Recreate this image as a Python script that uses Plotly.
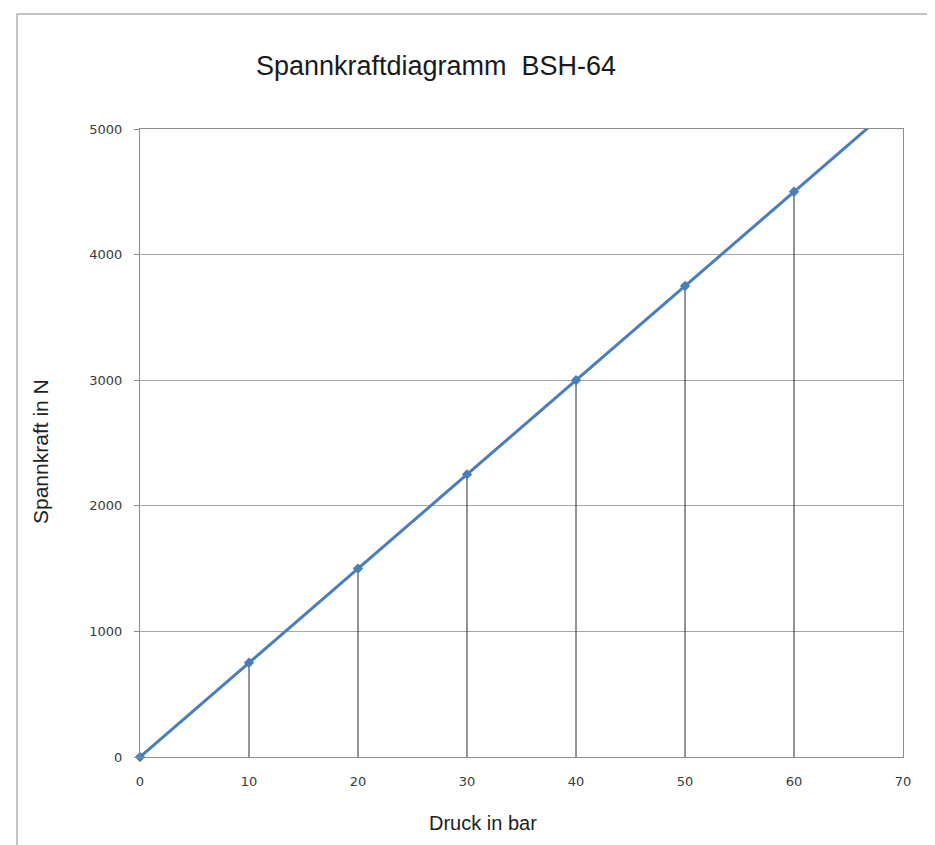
import numpy as np
import plotly.graph_objects as go

druck = [0, 10, 20, 30, 40, 50, 60]
spannkraft = [0, 750, 1500, 2250, 3000, 3750, 4500]
x_ticks = [0, 10, 20, 30, 40, 50, 60, 70]
y_ticks = [0, 1000, 2000, 3000, 4000, 5000]

line_color = "#4a7ebb"

# linear trendline through the measured points
slope, intercept = np.polyfit(druck, spannkraft, 1)
trend_x = [0, 70]
trend_y = [intercept + slope * v for v in trend_x]

fig = go.Figure()

# drop lines
for xv, yv in zip(druck[1:], spannkraft[1:]):
    fig.add_trace(go.Scatter(x=[xv, xv], y=[0, yv], mode="lines",
                             line=dict(color="#2b2b2b", width=1),
                             hoverinfo="skip", showlegend=False))

fig.add_trace(go.Scatter(x=trend_x, y=trend_y, mode="lines",
                         line=dict(color=line_color, width=3),
                         showlegend=False))
fig.add_trace(go.Scatter(x=druck, y=spannkraft, mode="markers",
                         marker=dict(symbol="diamond", size=8, color=line_color),
                         showlegend=False, cliponaxis=False))

tick_font = dict(family="DejaVu Sans", size=13, color="#3a3a3a")

L, T, R, B = 132, 121, 895, 749
PW, PH = R - L, B - T

def px(v):
    return (v - L) / PW

def py(v):
    return (B - v) / PH

fig.update_layout(
    width=935, height=845,
    margin=dict(l=L, r=935 - R, t=T, b=845 - B),
    paper_bgcolor="white", plot_bgcolor="white",
    title=dict(text="Spannkraftdiagramm  BSH-64", x=428 / 935, xanchor="center",
               xref="container", y=1 - 58 / 845, yanchor="middle",
               font=dict(family="Liberation Sans", size=27, color="#1a1a1a")),
    xaxis=dict(range=[0, 70], tickvals=x_ticks, showgrid=False, zeroline=False,
               showline=True, linecolor="#8c8c8c", linewidth=1, mirror=True,
               ticks="", tickfont=tick_font, ticklabelstandoff=12),
    yaxis=dict(range=[0, 5000], tickvals=y_ticks, showgrid=True, gridcolor="#a6a6a6",
               gridwidth=1, zeroline=False, showline=True, linecolor="#8c8c8c",
               linewidth=1, mirror=True, ticks="outside", ticklen=5, tickcolor="#8c8c8c",
               tickfont=tick_font, ticklabelstandoff=9),
    annotations=[
        dict(text="Druck in bar", xref="paper", yref="paper", x=px(475), y=py(815),
             xanchor="center", yanchor="middle", showarrow=False,
             font=dict(family="Liberation Sans", size=20, color="#222222")),
        dict(text="Spannkraft in N", xref="paper", yref="paper", x=px(32), y=py(444),
             xanchor="center", yanchor="middle", showarrow=False, textangle=-90,
             font=dict(family="Liberation Sans", size=21, color="#222222")),
    ],
    shapes=[dict(type="rect", xref="paper", yref="paper",
                 x0=px(9), x1=px(924), y0=py(860), y1=py(6),
                 line=dict(color="#b0b0b0", width=1.5), layer="below")],
)

fig.write_html("out.html")
